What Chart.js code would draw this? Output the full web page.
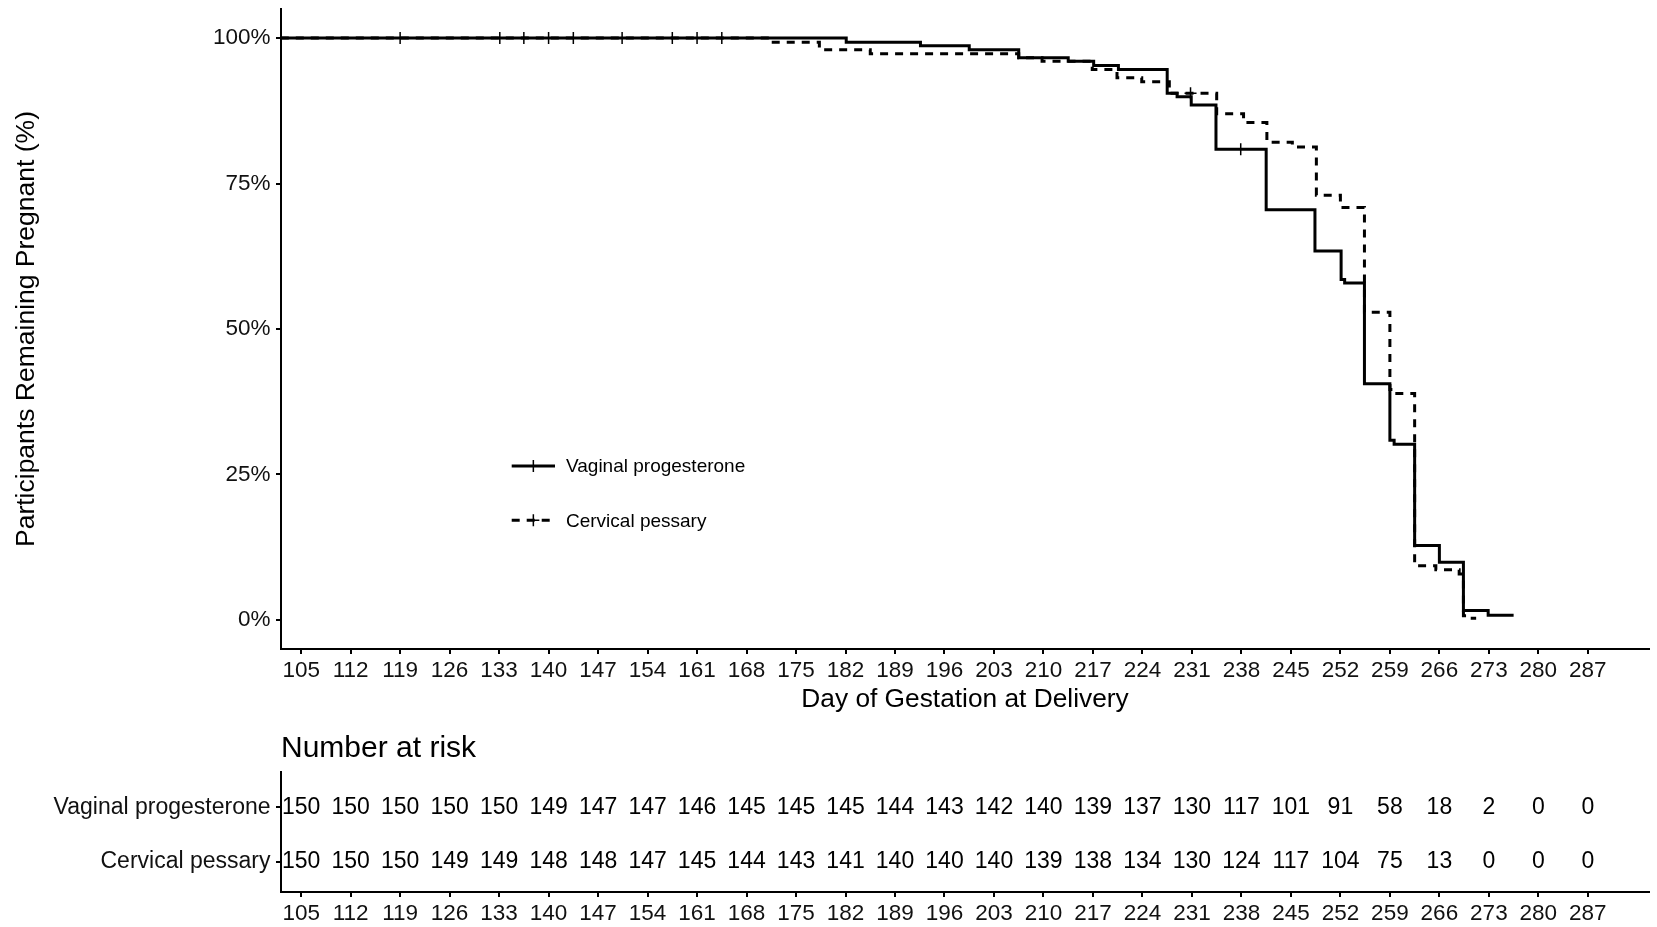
<!DOCTYPE html>
<html>
<head>
<meta charset="utf-8">
<script src="https://cdn.jsdelivr.net/npm/chart.js@4.4.1/dist/chart.umd.min.js"></script>
<style>
  body { margin: 0; background: #fff; }
  #wrap { position: relative; width: 1657px; height: 927px; }
  canvas { position: absolute; left: 0; }
  #kmChart { top: 0; }
  #riskChart { top: 720px; }
</style>
</head>
<body>
<div id="wrap">
  <canvas id="kmChart" width="1657" height="720"></canvas>
  <canvas id="riskChart" width="1657" height="207"></canvas>
</div>
<script>
const groups = ['Vaginal progesterone', 'Cervical pessary'];

// Kaplan-Meier steps (day, % still pregnant)
const vpDays = [100, 182.1, 192.6, 199.5, 206.5, 213.5, 217.1, 220.6, 227.5, 228.9, 230.9, 234.4, 241.5, 248.4, 252.1, 252.6, 255.4, 259.0, 259.6, 262.5, 266.0, 269.4, 272.9, 276.5];
const vpSurv = [100, 99.3, 98.7, 98.0, 96.6, 96.0, 95.3, 94.6, 90.5, 89.9, 88.5, 80.9, 70.5, 63.4, 58.5, 57.9, 40.6, 30.9, 30.2, 12.8, 9.9, 1.6, 0.8, 0.8];

const cpDays = [100, 171.4, 178.3, 185.5, 206.5, 209.8, 216.9, 220.4, 223.9, 227.8, 234.5, 238.3, 241.6, 245.2, 248.6, 252.0, 255.4, 259.0, 259.6, 262.5, 265.5, 268.8, 269.4, 270.4, 271.2];
const cpSurv = [100, 99.3, 98.0, 97.3, 96.6, 96.0, 94.6, 93.2, 92.5, 90.5, 87.0, 85.5, 82.1, 81.3, 73.0, 70.9, 52.9, 39.6, 38.9, 9.3, 8.6, 7.9, 0.7, 0.3, 0.3];

// censored observations (day)
const vpCensor = [136.5, 140.0, 143.5, 157.5, 164.5, 237.9];
const cpCensor = [119.0, 133.1, 150.4, 161.0, 230.8];

const dayTicks = [105, 112, 119, 126, 133, 140, 147, 154, 161, 168, 175, 182, 189, 196, 203, 210, 217, 224, 231, 238, 245, 252, 259, 266, 273, 280, 287];
const pctTicks = [0, 25, 50, 75, 100];

const vpRisk = [150, 150, 150, 150, 150, 149, 147, 147, 146, 145, 145, 145, 144, 143, 142, 140, 139, 137, 130, 117, 101, 91, 58, 18, 2, 0, 0];
const cpRisk = [150, 150, 150, 149, 149, 148, 148, 147, 145, 144, 143, 141, 140, 140, 140, 139, 138, 134, 130, 124, 117, 104, 75, 13, 0, 0, 0];

const FONT = '"Liberation Sans", Arial, sans-serif';
Chart.defaults.font.family = FONT;
Chart.defaults.color = '#000';

function survAt(days, surv, t) {
    let v = surv[0];
    for (let i = 0; i < days.length; i++) {
        if (days[i] <= t) v = surv[i];
    }
    return v;
}

function toPoints(xs, ys) {
    return xs.map((x, i) => ({ x: x, y: ys[i] }));
}

// fixed axis box sizes, and no extra room reserved for edge labels
function fixWidth(w) {
    return s => { s.width = w; s.paddingTop = 0; s.paddingBottom = 0; };
}
function fixHeight(h) {
    return s => { s.height = h; s.paddingLeft = 0; s.paddingRight = 0; };
}

const axisGrid = { drawOnChartArea: false, color: '#000', lineWidth: 2, tickLength: 5 };
const axisBorder = { color: '#000', width: 2 };
const tickFont = { size: 22.5 };

// legend drawn inside the plot, like the ggplot original
const insideLegend = {
    id: 'insideLegend',
    afterDraw(chart, args, opts) {
        const ctx = chart.ctx;
        const area = chart.chartArea;
        const x0 = area.left + opts.left;
        groups.forEach((name, i) => {
            const ds = chart.data.datasets[i];
            const y = area.top + opts.top + i * opts.rowGap;
            ctx.save();
            ctx.strokeStyle = ds.borderColor;
            ctx.lineWidth = ds.borderWidth;
            ctx.setLineDash(ds.borderDash || []);
            ctx.beginPath();
            ctx.moveTo(x0, y);
            ctx.lineTo(x0 + opts.lineLength, y);
            ctx.stroke();
            ctx.setLineDash([]);
            ctx.lineWidth = 1.5;
            const cx = x0 + opts.lineLength / 2;
            ctx.beginPath();
            ctx.moveTo(cx, y - 6);
            ctx.lineTo(cx, y + 6);
            ctx.moveTo(cx - 6, y);
            ctx.lineTo(cx + 6, y);
            ctx.stroke();
            ctx.fillStyle = '#000';
            ctx.font = '19px ' + FONT;
            ctx.textAlign = 'left';
            ctx.textBaseline = 'middle';
            ctx.fillText(name, x0 + opts.textOffset, y + 1);
            ctx.restore();
        });
    }
};

new Chart(document.getElementById('kmChart'), {
    type: 'scatter',
    data: {
        datasets: [
            {
                label: groups[0],
                data: toPoints(vpDays, vpSurv),
                showLine: true,
                stepped: true,
                borderColor: '#000',
                borderWidth: 3,
                pointRadius: 0,
                clip: 0
            },
            {
                label: groups[1],
                data: toPoints(cpDays, cpSurv),
                showLine: true,
                stepped: true,
                borderColor: '#000',
                borderWidth: 3,
                borderDash: [8, 7],
                pointRadius: 0,
                clip: 0
            },
            {
                label: groups[0] + ' censored',
                data: vpCensor.map(d => ({ x: d, y: survAt(vpDays, vpSurv, d) })),
                showLine: false,
                pointStyle: 'cross',
                pointRadius: 6,
                pointBorderWidth: 1.5,
                borderColor: '#000'
            },
            {
                label: groups[1] + ' censored',
                data: cpCensor.map(d => ({ x: d, y: survAt(cpDays, cpSurv, d) })),
                showLine: false,
                pointStyle: 'cross',
                pointRadius: 6,
                pointBorderWidth: 1.5,
                borderColor: '#000'
            }
        ]
    },
    options: {
        responsive: false,
        animation: false,
        devicePixelRatio: 1,
        layout: { padding: { top: 9, right: 8, left: 0, bottom: 0 } },
        plugins: {
            legend: { display: false },
            tooltip: { enabled: false },
            insideLegend: { left: 230.7, top: 457, rowGap: 54.3, lineLength: 43.3, textOffset: 54.3 }
        },
        scales: {
            x: {
                type: 'linear',
                min: 102.15,
                max: 295.65,
                afterBuildTicks: s => { s.ticks = dayTicks.map(v => ({ value: v })); },
                afterFit: fixHeight(71),
                grid: axisGrid,
                border: axisBorder,
                ticks: { font: tickFont, color: '#111', padding: 3, maxRotation: 0, autoSkip: false },
                title: {
                    display: true,
                    text: 'Day of Gestation at Delivery',
                    font: { size: 26.3, lineHeight: 1.2 },
                    color: '#000',
                    padding: { top: 0, bottom: 4 }
                }
            },
            y: {
                type: 'linear',
                min: -5,
                max: 105,
                afterBuildTicks: s => { s.ticks = pctTicks.map(v => ({ value: v })); },
                afterFit: fixWidth(281),
                grid: axisGrid,
                border: axisBorder,
                ticks: { font: tickFont, color: '#111', padding: 5.5, callback: v => v + '%' },
                title: {
                    display: true,
                    text: 'Participants Remaining Pregnant (%)',
                    font: { size: 26.5, lineHeight: 1.2 },
                    color: '#000',
                    padding: { top: 11, bottom: 0 }
                }
            }
        }
    },
    plugins: [insideLegend]
});

// risk table: one row per group, numbers drawn at the points' positions
const rowPos = groups.map((g, i) => groups.length - i);

const riskLabels = {
    id: 'riskLabels',
    afterDatasetsDraw(chart) {
        const ctx = chart.ctx;
        ctx.save();
        ctx.font = '23px ' + FONT;
        ctx.fillStyle = '#000';
        ctx.textAlign = 'center';
        ctx.textBaseline = 'middle';
        chart.data.datasets.forEach((ds, i) => {
            chart.getDatasetMeta(i).data.forEach((pt, j) => {
                ctx.fillText(String(ds.data[j].n), pt.x, pt.y);
            });
        });
        ctx.restore();
    }
};

new Chart(document.getElementById('riskChart'), {
    type: 'scatter',
    data: {
        datasets: [vpRisk, cpRisk].map((risk, r) => ({
            label: groups[r],
            data: dayTicks.map((d, i) => ({ x: d, y: rowPos[r], n: risk[i] })),
            pointRadius: 0
        }))
    },
    options: {
        responsive: false,
        animation: false,
        devicePixelRatio: 1,
        layout: { padding: { top: 0, right: 8, left: 0, bottom: 0 } },
        plugins: {
            legend: { display: false },
            tooltip: { enabled: false },
            title: {
                display: true,
                text: 'Number at risk',
                align: 'start',
                fullSize: false,
                color: '#000',
                font: { size: 30, weight: 'normal', lineHeight: 1.2 },
                padding: { top: 11, bottom: 5 }
            }
        },
        scales: {
            x: {
                type: 'linear',
                min: 102.15,
                max: 295.65,
                afterBuildTicks: s => { s.ticks = dayTicks.map(v => ({ value: v })); },
                afterFit: fixHeight(35),
                grid: axisGrid,
                border: axisBorder,
                ticks: { font: tickFont, color: '#111', padding: 3.5, maxRotation: 0, autoSkip: false }
            },
            y: {
                type: 'linear',
                min: 0.45,
                max: 2.65,
                afterBuildTicks: s => { s.ticks = rowPos.map(v => ({ value: v })); },
                afterFit: fixWidth(281),
                grid: axisGrid,
                border: axisBorder,
                ticks: { font: { size: 23 }, color: '#111', padding: 5.5, callback: v => groups[groups.length - v] }
            }
        }
    },
    plugins: [riskLabels]
});
</script>
</body>
</html>
